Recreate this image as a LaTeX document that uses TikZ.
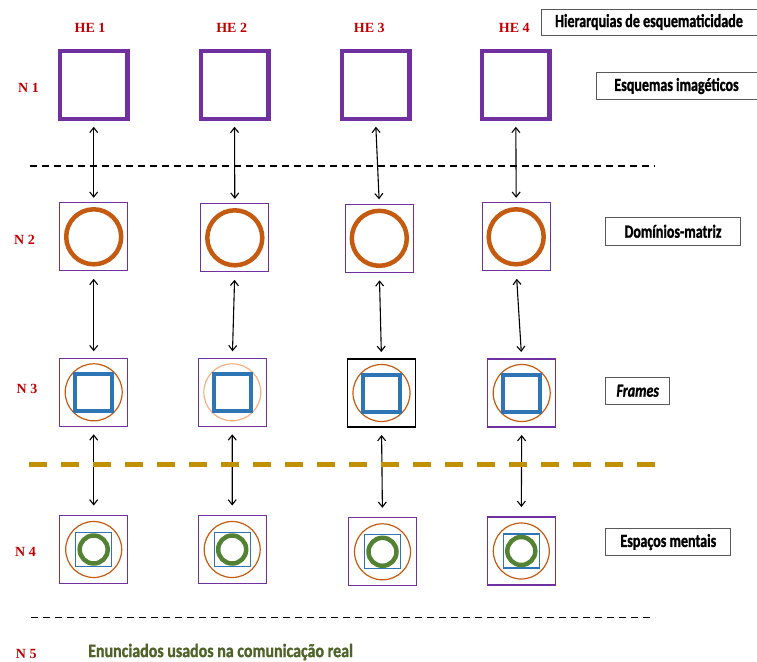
\documentclass[tikz,border=0pt]{standalone}
\usepackage{fontspec}
\usepackage{tikz}
\usetikzlibrary{calc, positioning, arrows.meta}
\setmainfont{Liberation Serif}
\newfontfamily\tagfont[FakeStretch=0.76, FakeBold=1.2]{Carlito}
\newfontfamily\notefont[FakeStretch=0.84, FakeBold=1.2]{Carlito}
\definecolor{SchemaPurple}{RGB}{112,48,160}
\definecolor{DomainOrange}{RGB}{197,90,17}
\definecolor{paleorange}{RGB}{244,177,131}
\definecolor{FrameBlue}{RGB}{46,117,182}
\definecolor{SpaceGreen}{RGB}{84,130,53}
\definecolor{olivegreen}{RGB}{79,98,40}
\definecolor{gold}{RGB}{191,144,0}
\definecolor{levelred}{RGB}{192,0,0}
\definecolor{tagframe}{RGB}{89,89,89}

\begin{document}
\begin{tikzpicture}[x=1pt, y=-1pt,
    lvl/.style={font=\fontsize{14}{16}\selectfont\bfseries, text=levelred, inner sep=0pt},
    tag/.style={draw=tagframe, line width=0.9pt, inner sep=0pt,
      font=\tagfont\fontsize{18.5}{20}\selectfont\bfseries},
    cell/.style={draw=SchemaPurple, line width=1.2pt, minimum size=68pt, inner sep=0pt, outer sep=0pt},
    ring/.style={circle, draw=#1, inner sep=0pt, outer sep=0pt},
    link/.style={{Straight Barb[length=5pt,width=8pt]}-{Straight Barb[length=5pt,width=8pt]},
      line width=1.1pt, shorten <=8pt, shorten >=7pt}]
  \useasboundingbox (0,0) rectangle (757,661);

  % column and level labels
  \foreach \i/\x in {1/90, 2/231.7, 3/369.3, 4/514.3}
    \node[lvl] (he-\i) at (\x,28) {HE \i};
  \foreach \i/\x/\y in {1/28.5/88, 2/24.5/240, 3/27/389, 4/25.5/552, 5/26.3/654}
    \node[lvl] (lv-\i) at (\x,\y) {N \i};

  % level 1: image schemas
  \foreach \i/\x in {1/93.7, 2/234.5, 3/375.5, 4/515.8}
    \node[cell, line width=4.5pt, minimum size=67.5pt] (n1-\i) at (\x,85) {};

  % level 2: matrix domains
  \foreach \i/\x/\y in {1/93.7/236.8, 2/234.8/237.8, 3/379.3/238.3, 4/516.2/236.8} {
    \node[cell] (n2-\i) at (\x,\y) {};
    \node[ring=DomainOrange, line width=4.5pt, minimum size=55pt] (o2-\i) at (n2-\i) {};
  }

  % level 3: frames
  \foreach \i/\x/\y/\bx/\rc in {1/93.7/392.3/SchemaPurple/DomainOrange,
                                2/232.3/392.3/SchemaPurple/paleorange,
                                3/381.5/393/black/DomainOrange,
                                4/521.7/393/SchemaPurple/DomainOrange} {
    \node[cell, draw=\bx] (n3-\i) at (\x,\y) {};
    \node[ring=\rc, line width=1.2pt, minimum size=57pt] (o3-\i) at (n3-\i) {};
    \node[draw=FrameBlue, line width=4pt, minimum size=37pt, inner sep=0pt] (f3-\i) at (n3-\i) {};
  }

  % level 4: mental spaces
  \foreach \i/\x/\y in {1/93.7/549.5, 2/232.2/549.5, 3/382.5/551.8, 4/521.3/551} {
    \node[cell] (n4-\i) at (\x,\y) {};
    \node[ring=DomainOrange, line width=1.2pt, minimum size=56pt] (o4-\i) at (n4-\i) {};
    \node[draw=FrameBlue, line width=1.2pt, minimum width=36pt, minimum height=34pt, inner sep=0pt] (f4-\i) at (n4-\i) {};
    \node[ring=SpaceGreen, line width=4.5pt, minimum size=28pt] (g4-\i) at (n4-\i) {};
  }

  % links between levels
  \foreach \i in {1,...,4} {
    \draw[link, shorten >=5pt] (n1-\i.south) -- (n2-\i.north);
    \draw[link] (n2-\i.south) -- (n3-\i.north);
    \draw[link, shorten >=10pt] (n3-\i.south) -- (n4-\i.north);
  }

  % level separators
  \draw[line width=1.1pt, dash pattern=on 7pt off 5pt] (30,166) -- (655,166);
  \draw[gold, line width=5pt, dash pattern=on 18pt off 14pt] (29,464) -- (655,464);
  \draw[line width=1.1pt, dash pattern=on 7pt off 5pt] (31,617.5) -- (655,617.5);

  % level names
  \node[tag, minimum width=216pt, minimum height=26pt] (hier) at (649,22) {Hierarquias de esquematicidade};
  \node[tag, minimum width=161pt, minimum height=27pt] (esq) at (676.5,86) {Esquemas imagéticos};
  \node[tag, minimum width=134.6pt, minimum height=27.3pt] (dom) at (673,231.3) {Domínios-matriz};
  \node[tag, minimum width=64pt, minimum height=27pt] (frm) at (637.7,390.8) {\itshape Frames};
  \node[tag, minimum width=125pt, minimum height=26.7pt] (esp) at (668.3,542) {Espaços mentais};
  \node[anchor=west, inner sep=0pt, text=olivegreen, font=\notefont\fontsize{19}{20}\selectfont\bfseries]
    (enun) at (88,652) {Enunciados usados na comunicação real};
\end{tikzpicture}
\end{document}
